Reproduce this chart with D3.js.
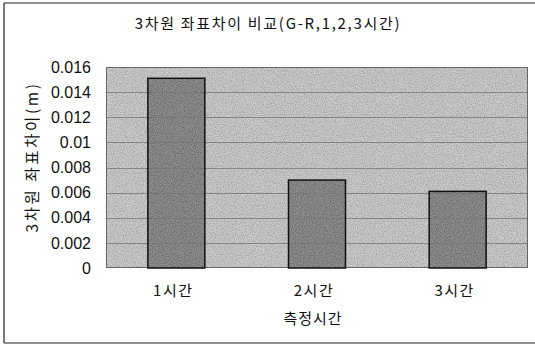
<!DOCTYPE html>
<html>
<head>
<meta charset="utf-8">
<script src="https://cdn.jsdelivr.net/npm/d3@7/dist/d3.min.js"></script>
<style>
  html, body { margin: 0; padding: 0; background: #fff; }
  svg { display: block; }
  text { font-family: "Noto Sans CJK KR", "Noto Sans", sans-serif; fill: #111; white-space: pre; }
</style>
</head>
<body>
<svg id="chart" width="535" height="345"></svg>
<script>
// Measurement times and the 3D coordinate difference (m) for each
const categories = ["1시간", "2시간", "3시간"];
const values = [0.0151, 0.0070, 0.0061];
const yTicks = [0, 0.002, 0.004, 0.006, 0.008, 0.01, 0.012, 0.014, 0.016];
const yTickLabels = ["0", "0.002", "0.004", "0.006", "0.008", "0.01", "0.012", "0.014", "0.016"];
const title = "3차원 좌표차이 비교(G-R,1,2,3시간)";
const xTitle = "측정시간";
const yTitle = "3차원 좌표차이(m)";

const svg = d3.select("#chart");
const plot = { left: 106, top: 67, right: 528, bottom: 268 };

// Grainy print-like texture for the grey fills
const defs = svg.append("defs");
const f = defs.append("filter").attr("id", "grain")
  .attr("x", 0).attr("y", 0).attr("width", 1).attr("height", 1);
f.append("feTurbulence").attr("type", "fractalNoise")
  .attr("baseFrequency", 0.9).attr("numOctaves", 2).attr("seed", 3).attr("result", "noise");
f.append("feColorMatrix").attr("in", "noise").attr("type", "matrix")
  .attr("values", "0 0 0 0 0  0 0 0 0 0  0 0 0 0 0  0 0 0 -1.6 1.0").attr("result", "dark");
f.append("feComposite").attr("in", "dark").attr("in2", "SourceGraphic").attr("operator", "in").attr("result", "darkIn");
f.append("feComposite").attr("in", "darkIn").attr("in2", "SourceGraphic").attr("operator", "arithmetic")
  .attr("k1", 0).attr("k2", 0.35).attr("k3", 0.75).attr("k4", 0);

// Chart frame
const frame = svg.append("g").attr("stroke", "#222").attr("stroke-width", 1.2).attr("fill", "none");
frame.append("line").attr("x1", 4).attr("y1", 3).attr("x2", 4).attr("y2", 343);
frame.append("line").attr("x1", 4).attr("y1", 3).attr("x2", 535).attr("y2", 3);
frame.append("line").attr("x1", 4).attr("y1", 343).attr("x2", 535).attr("y2", 343);

const xc = d3.scaleBand().domain(categories).range([plot.left, plot.right]);
const y = d3.scaleLinear().domain([0, 0.016]).range([plot.bottom, plot.top]);

// Plot background
svg.append("rect")
  .attr("x", plot.left).attr("y", plot.top)
  .attr("width", plot.right - plot.left).attr("height", plot.bottom - plot.top)
  .attr("fill", "#b8b8b8").attr("filter", "url(#grain)");

// Gridlines
svg.append("g")
  .selectAll("line").data(yTicks.slice(1)).join("line")
  .attr("x1", plot.left).attr("x2", plot.right)
  .attr("y1", d => Math.round(y(d)) + 0.5).attr("y2", d => Math.round(y(d)) + 0.5)
  .attr("stroke", "#5a5a5a").attr("stroke-width", 1).attr("opacity", 0.55);

// Plot border
svg.append("rect")
  .attr("x", plot.left + 0.5).attr("y", plot.top + 0.5)
  .attr("width", plot.right - plot.left - 1).attr("height", plot.bottom - plot.top - 1)
  .attr("fill", "none").attr("stroke", "#666").attr("stroke-width", 1);

// Bars
const bw = 57;
const barX = (d, i) => xc(categories[i]) + xc.bandwidth() / 2 - bw / 2;
svg.append("g").selectAll("rect").data(values).join("rect")
  .attr("x", barX).attr("y", d => y(d))
  .attr("width", bw).attr("height", d => y(0) - y(d))
  .attr("fill", "#7a7a7a").attr("filter", "url(#grain)");
svg.append("g").selectAll("rect").data(values).join("rect")
  .attr("x", barX).attr("y", d => y(d))
  .attr("width", bw).attr("height", d => y(0) - y(d))
  .attr("fill", "none").attr("stroke", "#111").attr("stroke-width", 1.5);

// Y axis labels
const yAxis = d3.axisLeft(y).tickValues(yTicks)
  .tickFormat((d, i) => yTickLabels[i]).tickSize(0).tickPadding(15);
const yg = svg.append("g").attr("transform", `translate(${plot.left},0)`).call(yAxis);
yg.select(".domain").remove();
yg.selectAll("text").style("font-size", "16px")
  .style("font-family", "Arial, 'Liberation Sans', sans-serif").attr("fill", "#111");

// X axis labels
const xAxis = d3.axisBottom(xc).tickSize(0).tickPadding(17);
const xg = svg.append("g").attr("transform", `translate(0,${plot.bottom})`).call(xAxis);
xg.select(".domain").remove();
xg.selectAll("text").style("font-size", "15px").style("letter-spacing", "1.5px")
  .attr("fill", "#111").attr("dx", -3);

// Titles
svg.append("text").attr("x", 268).attr("y", 29).attr("text-anchor", "middle")
  .style("font-size", "15px").style("letter-spacing", "1.7px").text(title);
svg.append("text").attr("x", 313).attr("y", 324).attr("text-anchor", "middle")
  .style("font-size", "15px").style("letter-spacing", "1px").text(xTitle);
svg.append("text").attr("transform", "translate(38,157) rotate(-90)").attr("text-anchor", "middle")
  .style("font-size", "15.5px").style("letter-spacing", "2.6px").text(yTitle);
</script>
</body>
</html>
